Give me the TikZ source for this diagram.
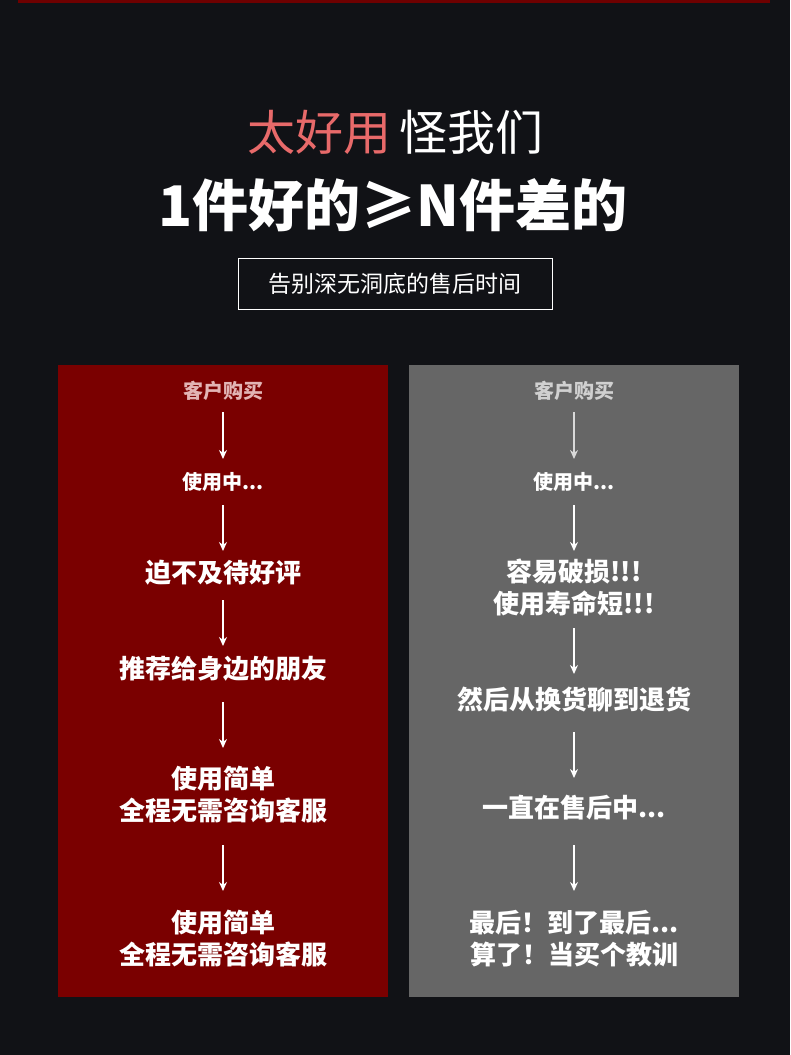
\documentclass[tikz,border=0pt]{standalone}
\usepackage{fontspec}
\setmainfont{Noto Sans CJK SC}
\newfontfamily\cjkb{Noto Sans CJK SC Bold}
\usetikzlibrary{arrows.meta}
\definecolor{bg}{HTML}{111216}
\definecolor{darkred}{HTML}{7A0000}
\definecolor{topred}{HTML}{6E0000}
\definecolor{panelgray}{HTML}{666666}
\definecolor{salmon}{HTML}{E86A6A}
\definecolor{pinkish}{HTML}{E2B4B4}
\definecolor{lightgray}{HTML}{D0D0D0}
\tikzset{
  px/.style={x=1pt,y=-1pt},
  small/.style={font=\fontsize{20}{24}\selectfont\bfseries, text=white, align=center},
  big/.style={font=\fontsize{26}{32}\selectfont\bfseries, text=white, align=center},
  flow/.style={draw=white, line width=1.5pt, -{Stealth[length=9pt,width=8pt]}},
}
\begin{document}
\begin{tikzpicture}[x=1pt,y=-1pt]
\fill[bg] (0,0) rectangle (790,1055);
\useasboundingbox (0,0) rectangle (790,1055);
\fill[topred] (18,0) rectangle (770,3);
\node[font=\fontsize{48}{56}\selectfont] (t1) at (395,132) {\textcolor{salmon}{太好用}\,\textcolor{white}{怪我们}};
\node[font=\fontsize{56}{64}\selectfont\bfseries, text=white] (t2) at (393,205) {1件好的≥N件差的};
\node[draw=white, line width=1pt, minimum width=314pt, minimum height=51pt, font=\fontsize{23}{28}\selectfont, text=white] (sub) at (395,284) {告别深无洞底的售后时间};
% panels
\fill[darkred] (58,365) rectangle (388,997);
\fill[panelgray] (409,365) rectangle (739,997);
% left
\node[small, text=pinkish] (l1) at (223,391) {客户购买};
\node[small] (l2) at (223,482) {使用中...};
\node[big] (l3) at (223,573) {迫不及待好评};
\node[big] (l4) at (223,669) {推荐给身边的朋友};
\node[big, font=\fontsize{26}{32}\selectfont\bfseries] (l5) at (223,795) {使用简单\\全程无需咨询客服};
\node[big] (l6) at (223,939) {使用简单\\全程无需咨询客服};
\coordinate (a1s) at (223,412); \coordinate (a1e) at (223,459);
\coordinate (a2s) at (223,505); \coordinate (a2e) at (223,551);
\coordinate (a3s) at (223,600); \coordinate (a3e) at (223,646);
\coordinate (a4s) at (223,702); \coordinate (a4e) at (223,748);
\coordinate (a5s) at (223,845); \coordinate (a5e) at (223,891);
\foreach \i in {1,...,5} \draw[flow] (a\i s) -- (a\i e);
% right
\node[small, text=lightgray] (r1) at (574,391) {客户购买};
\node[small] (r2) at (574,482) {使用中...};
\node[big] (r3) at (574,588) {容易破损!!!\\使用寿命短!!!};
\node[big] (r4) at (574,700) {然后从换货聊到退货};
\node[big] (r5) at (574,808) {一直在售后中...};
\node[big] (r6) at (574,939) {最后！到了最后...\\算了！当买个教训};
\coordinate (b1s) at (574,412); \coordinate (b1e) at (574,459);
\coordinate (b2s) at (574,505); \coordinate (b2e) at (574,551);
\coordinate (b3s) at (574,628); \coordinate (b3e) at (574,674);
\coordinate (b4s) at (574,732); \coordinate (b4e) at (574,778);
\coordinate (b5s) at (574,845); \coordinate (b5e) at (574,891);
\draw[flow, draw=lightgray!80] (b1s) -- (b1e);
\foreach \i in {2,...,5} \draw[flow] (b\i s) -- (b\i e);
\end{tikzpicture}
\end{document}
